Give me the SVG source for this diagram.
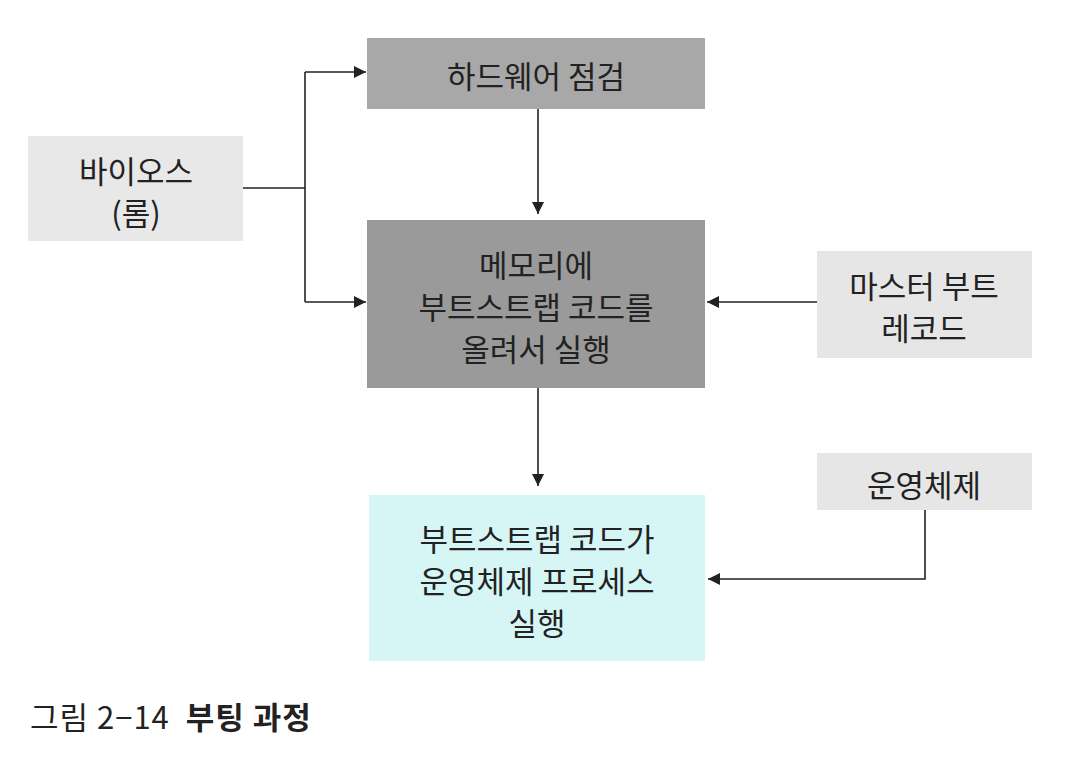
<svg xmlns="http://www.w3.org/2000/svg" width="1080" height="764" viewBox="0 0 1080 764">
<style>
.t{font-family:"Noto Sans CJK KR","Noto Sans",sans-serif;font-size:31px;fill:#222;text-anchor:middle;dominant-baseline:central}
.ln{fill:none;stroke:#222;stroke-width:1.6}
.cap{font-family:"Noto Sans CJK KR","Noto Sans",sans-serif;font-size:31px;fill:#222;letter-spacing:1px}
</style>
<defs>
<marker id="ah" viewBox="0 0 10 10" refX="10" refY="5" markerWidth="12" markerHeight="12" markerUnits="userSpaceOnUse" orient="auto">
<path d="M0,0 L10,5 L0,10 z" fill="#222"/>
</marker>
</defs>
<rect width="1080" height="764" fill="#fff"/>
<g id="bios"><rect x="28" y="136" width="215" height="105" fill="#e8e8e8"/><text class="t" x="136" y="169">바이오스</text><text class="t" x="136" y="211">(롬)</text></g>
<g id="hw"><rect x="367" y="38" width="338" height="71" fill="#a8a8a8"/><text class="t" x="536" y="74">하드웨어 점검</text></g>
<g id="mem"><rect x="367" y="220" width="338" height="168" fill="#9a9a9a"/><text class="t" x="536" y="263">메모리에</text><text class="t" x="536" y="305">부트스트랩 코드를</text><text class="t" x="536" y="347">올려서 실행</text></g>
<g id="mbr"><rect x="817" y="251" width="215" height="107" fill="#e6e6e6"/><text class="t" x="924" y="284">마스터 부트</text><text class="t" x="924" y="326">레코드</text></g>
<g id="os"><rect x="817" y="453" width="215" height="57" fill="#e6e6e6"/><text class="t" x="924" y="483">운영체제</text></g>
<g id="boot"><rect x="369" y="495" width="336" height="166" fill="#d6f5f5"/><text class="t" x="537" y="537">부트스트랩 코드가</text><text class="t" x="537" y="579">운영체제 프로세스</text><text class="t" x="537" y="621">실행</text></g>
<g id="connectors">
<path class="ln" d="M243,188 H305"/>
<path class="ln" d="M305,72 V302"/>
<path class="ln" d="M305,72 H366" marker-end="url(#ah)"/>
<path class="ln" d="M305,302 H366" marker-end="url(#ah)"/>
<path class="ln" d="M538,109 V214" marker-end="url(#ah)"/>
<path class="ln" d="M817,302 H707" marker-end="url(#ah)"/>
<path class="ln" d="M538,388 V486" marker-end="url(#ah)"/>
<path class="ln" d="M925,510 V579 H708" marker-end="url(#ah)"/>
</g>
<text class="cap" x="30" y="729" xml:space="preserve">그림 2−14  <tspan font-weight="bold">부팅 과정</tspan></text>
</svg>
